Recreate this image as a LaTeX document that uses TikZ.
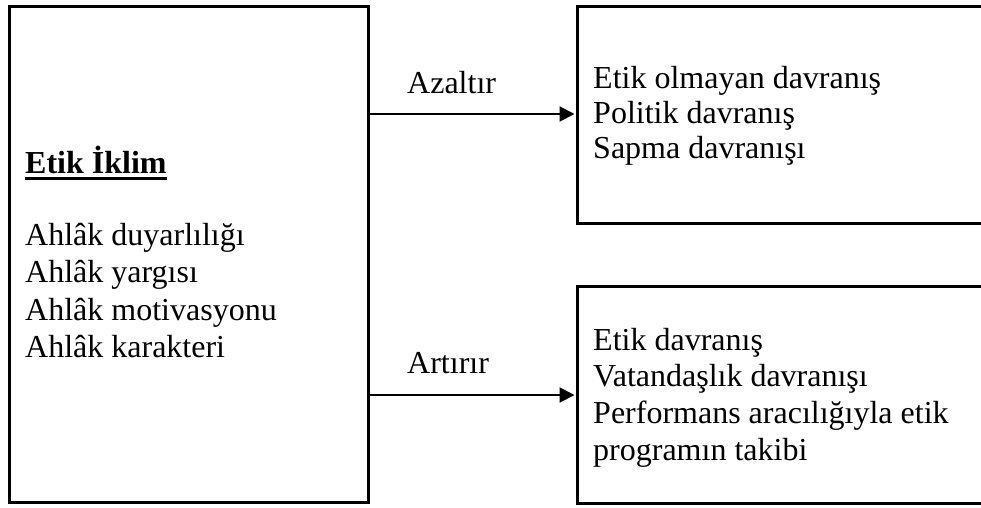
\documentclass[tikz,border=0pt]{standalone}
\usepackage{fontspec}
\setmainfont{Liberation Serif}
\usetikzlibrary{arrows.meta}
\begin{document}
\begin{tikzpicture}[x=1pt,y=-1pt,
  box/.style={draw,line width=3pt,rectangle,inner sep=0pt,anchor=north west},
  txt/.style={inner sep=0pt,anchor=base west,font=\fontsize{32}{36}\selectfont},
  link/.style={line width=2pt,-{Triangle[length=15pt,width=15pt]},shorten >=1.5pt}]
\useasboundingbox (0,0) rectangle (981,507);

% three boxes (the right-hand ones run past the edge)
\node[box,minimum width=359pt,minimum height=496pt] (climate) at (8,5) {};
\node[box,minimum width=500pt,minimum height=217pt] (reduce) at (576,5) {};
\node[box,minimum width=500pt,minimum height=217pt] (raise) at (576,285) {};

% left box contents
\node[txt,font=\fontsize{32}{36}\selectfont\bfseries] (title) at (25,173) {Etik İklim};
\draw[line width=2.6pt] ([yshift=-5.5pt]title.base west) -- ([yshift=-5.5pt]title.base east);
\node[txt,font=\fontsize{32}{37.6}\selectfont] (dims) at (25,245)
  {\vtop{\hbox{Ahlâk duyarlılığı}\hbox{Ahlâk yargısı}\hbox{Ahlâk motivasyonu}\hbox{Ahlâk karakteri}}};

% right box contents
\node[txt,font=\fontsize{32}{35}\selectfont] (neg) at (593,88)
  {\vtop{\hbox{Etik olmayan davranış}\hbox{Politik davranış}\hbox{Sapma davranışı}}};
\node[txt,font=\fontsize{32}{36.7}\selectfont] (pos) at (593,350)
  {\vtop{\hbox{Etik davranış}\hbox{Vatandaşlık davranışı}\hbox{Performans aracılığıyla etik}\hbox{programın takibi}}};

% connectors
\coordinate (a1) at (367,114);
\coordinate (a2) at (367,395);
\draw[link] (a1) -- (a1 -| reduce.west);
\draw[link] (a2) -- (a2 -| raise.west);
\node[txt] (lowers) at (407,93) {Azaltır};
\node[txt] (raises) at (407,373) {Artırır};
\end{tikzpicture}
\end{document}
